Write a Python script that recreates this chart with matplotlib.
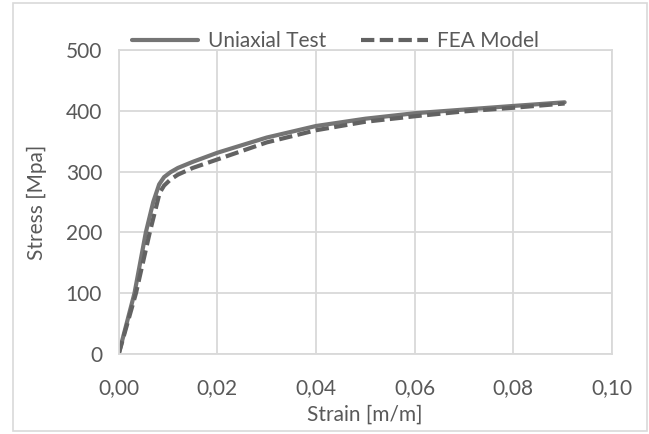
import matplotlib
matplotlib.use("Agg")
import matplotlib.pyplot as plt
from matplotlib.patches import Rectangle
from matplotlib.ticker import FuncFormatter

# Data
strain_test = [0.0, 0.0032, 0.0055, 0.0070, 0.0082, 0.0092, 0.0105, 0.0120, 0.015, 0.020,
               0.030, 0.040, 0.050, 0.060, 0.070, 0.080, 0.0904]
stress_test = [0, 100, 200, 250, 279, 291, 299, 306, 316, 331,
               356, 375, 387, 396, 402, 408, 414]

strain_fea = [0.0, 0.0035, 0.0063, 0.0083, 0.0092, 0.0105, 0.0120, 0.015, 0.020,
              0.030, 0.040, 0.050, 0.060, 0.070, 0.080, 0.0904]
stress_fea = [0, 100, 200, 265, 277, 287, 295, 306, 320,
              348, 368, 382, 391, 399, 405, 412]

x_ticks = [0.00, 0.02, 0.04, 0.06, 0.08, 0.10]
y_ticks = [0, 100, 200, 300, 400, 500]

plt.rcParams['font.family'] = ['Lato', 'DejaVu Sans']
FS = 15
TXT = '#595959'

W, H = 649, 434
fig = plt.figure(figsize=(W / 100, H / 100), dpi=100)
ax = fig.add_axes([118.7 / W, 1 - 354 / H, (612 - 118.7) / W, (354 - 50) / H])

ax.plot(strain_test, stress_test, color='#757575', lw=3.0, solid_capstyle='round',
        solid_joinstyle='round', label='Uniaxial Test')
ax.plot(strain_fea, stress_fea, color='#626262', lw=3.0, linestyle=(0, (3.2, 1.3)),
        label='FEA Model')

ax.set_xlim(0, 0.10)
ax.set_ylim(0, 500)
ax.set_xticks(x_ticks)
ax.set_yticks(y_ticks)
ax.xaxis.set_major_formatter(FuncFormatter(lambda v, p: f"{v:.2f}".replace('.', ',')))
ax.grid(True, color='#d9d9d9', lw=1.3)
ax.set_axisbelow(True)
for s in ax.spines.values():
    s.set_color('#d9d9d9')
    s.set_linewidth(1.3)
ax.tick_params(length=0, labelsize=FS, colors=TXT)
ax.tick_params(axis='x', pad=17)
ax.tick_params(axis='y', pad=12)

fig.text(365 / W, 1 - 415 / H, 'Strain [m/m]', ha='center', va='center',
         fontsize=FS, color=TXT)
fig.text(37 / W, 1 - 202 / H, 'Stress [Mpa]', ha='center', va='center',
         rotation=90, fontsize=FS, color=TXT)

leg = fig.legend(loc='center', bbox_to_anchor=(335.5 / W, 1 - 41 / H), ncol=2,
                 frameon=False, fontsize=FS, handlelength=3.2, handletextpad=0.45,
                 columnspacing=1.7, borderaxespad=0, borderpad=0)
for t in leg.get_texts():
    t.set_color(TXT)

fig.patches.append(Rectangle((12.5 / W, 3 / H), (646.5 - 12.5) / W, (431 - 3) / H,
                             transform=fig.transFigure, fill=False,
                             edgecolor='#d9d9d9', lw=1.2))

fig.savefig('out.png', dpi=100)
